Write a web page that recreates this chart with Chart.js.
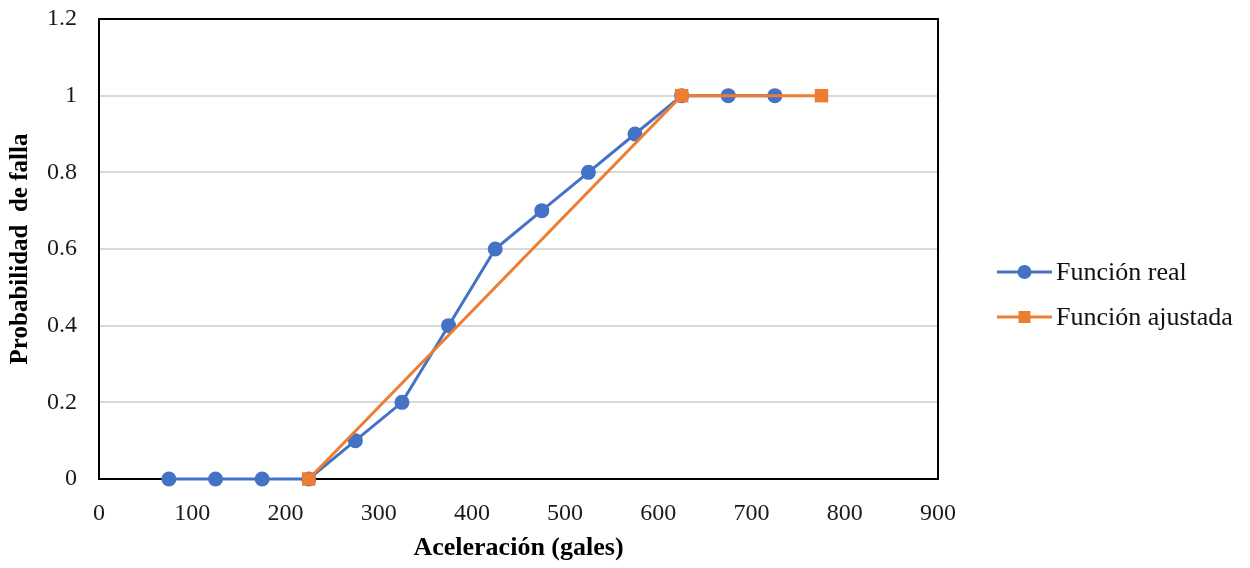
<!DOCTYPE html>
<html>
<head>
<meta charset="utf-8">
<script src="https://cdn.jsdelivr.net/npm/chart.js@4.4.1/dist/chart.umd.min.js"></script>
<style>
  html, body { margin: 0; padding: 0; background: #ffffff; }
  #wrap { width: 1250px; height: 568px; }
</style>
</head>
<body>
<div id="wrap"><canvas id="c" width="1250" height="568"></canvas></div>
<script>
// Aceleración (gales) y probabilidad de falla observada
const aceleracionReal = [75, 125, 175, 225, 275, 325, 375, 425, 475, 525, 575, 625, 675, 725];
const probabilidadReal = [0, 0, 0, 0, 0.1, 0.2, 0.4, 0.6, 0.7, 0.8, 0.9, 1, 1, 1];

// Función ajustada (tramo lineal)
const aceleracionAjustada = [225, 625, 775];
const probabilidadAjustada = [0, 1, 1];

const nombresSeries = ['Función real', 'Función ajustada'];
const coloresSeries = ['#4472C4', '#ED7D31'];
const marcadores = ['circle', 'rect'];

const FONT = '"Liberation Serif", "Times New Roman", serif';

const toPoints = (xs, ys) => xs.map((x, i) => ({ x: x, y: ys[i] }));

// Marco negro alrededor del área de trazado
const framePlugin = {
  id: 'frame',
  beforeDatasetsDraw(chart) {
    const a = chart.chartArea;
    const ctx = chart.ctx;
    ctx.save();
    ctx.strokeStyle = '#000000';
    ctx.lineWidth = 2;
    ctx.strokeRect(a.left, a.top, a.right - a.left, a.bottom - a.top);
    ctx.restore();
  }
};

// Leyenda a la derecha: línea con marcador y texto
const legendPlugin = {
  id: 'sideLegend',
  afterDraw(chart) {
    const ctx = chart.ctx;
    const x0 = 997, x1 = 1052, tx = 1056;
    const ys = [272, 317];
    ctx.save();
    chart.data.datasets.forEach((ds, i) => {
      const y = ys[i];
      ctx.strokeStyle = ds.borderColor;
      ctx.lineWidth = 3;
      ctx.beginPath();
      ctx.moveTo(x0, y);
      ctx.lineTo(x1, y);
      ctx.stroke();
      ctx.fillStyle = ds.backgroundColor;
      const cx = (x0 + x1) / 2;
      if (ds.pointStyle === 'circle') {
        ctx.beginPath();
        ctx.arc(cx, y, 7, 0, Math.PI * 2);
        ctx.fill();
      } else {
        ctx.fillRect(cx - 6, y - 6, 12, 12);
      }
      ctx.fillStyle = '#111111';
      ctx.font = '26px ' + FONT;
      ctx.textBaseline = 'middle';
      ctx.textAlign = 'left';
      ctx.fillText(ds.label, tx, y + 1);
    });
    ctx.restore();
  }
};

new Chart(document.getElementById('c'), {
  type: 'line',
  data: {
    datasets: [
      {
        label: nombresSeries[0],
        data: toPoints(aceleracionReal, probabilidadReal),
        borderColor: coloresSeries[0],
        backgroundColor: coloresSeries[0],
        borderWidth: 3,
        pointStyle: marcadores[0],
        pointRadius: 7.5,
        pointHoverRadius: 7.5,
        pointBorderWidth: 0,
        tension: 0,
        clip: false,
        order: 1
      },
      {
        label: nombresSeries[1],
        data: toPoints(aceleracionAjustada, probabilidadAjustada),
        borderColor: coloresSeries[1],
        backgroundColor: coloresSeries[1],
        borderWidth: 3,
        pointStyle: marcadores[1],
        pointRadius: 9.5,
        pointHoverRadius: 9.5,
        pointBorderWidth: 0,
        tension: 0,
        clip: false,
        order: 0
      }
    ]
  },
  options: {
    responsive: false,
    animation: false,
    events: [],
    layout: { padding: { left: 2, top: 19, right: 312, bottom: 0 } },
    plugins: {
      legend: { display: false },
      tooltip: { enabled: false }
    },
    scales: {
      x: {
        type: 'linear',
        min: 0,
        max: 900,
        border: { display: false },
        grid: { display: false, drawTicks: false },
        ticks: {
          stepSize: 100,
          padding: 20,
          color: '#1a1a1a',
          font: { family: FONT, size: 24 }
        },
        title: {
          display: true,
          text: 'Aceleración (gales)',
          color: '#000000',
          font: { family: FONT, size: 26, weight: 'bold' },
          padding: { top: 4, bottom: 4 }
        },
        afterFit(scale) { scale.height = 89; }
      },
      y: {
        type: 'linear',
        min: 0,
        max: 1.2,
        border: { display: false },
        grid: {
          drawTicks: false,
          lineWidth: 2,
          color: (ctx) => (ctx.tick && ctx.tick.value === 0 ? 'rgba(0,0,0,0)' : '#d9d9d9')
        },
        ticks: {
          stepSize: 0.2,
          padding: 22,
          color: '#1a1a1a',
          font: { family: FONT, size: 24 },
          callback: (v) => String(Number(v.toFixed(1)))
        },
        title: {
          display: true,
          text: 'Probabilidad  de falla',
          color: '#000000',
          font: { family: FONT, size: 25, weight: 'bold' },
          padding: { top: 4, bottom: 4 }
        },
        afterFit(scale) {
          scale.width = 97;
          scale.paddingTop = 0;
          scale.paddingBottom = 0;
        }
      }
    }
  },
  plugins: [framePlugin, legendPlugin]
});
</script>
</body>
</html>
